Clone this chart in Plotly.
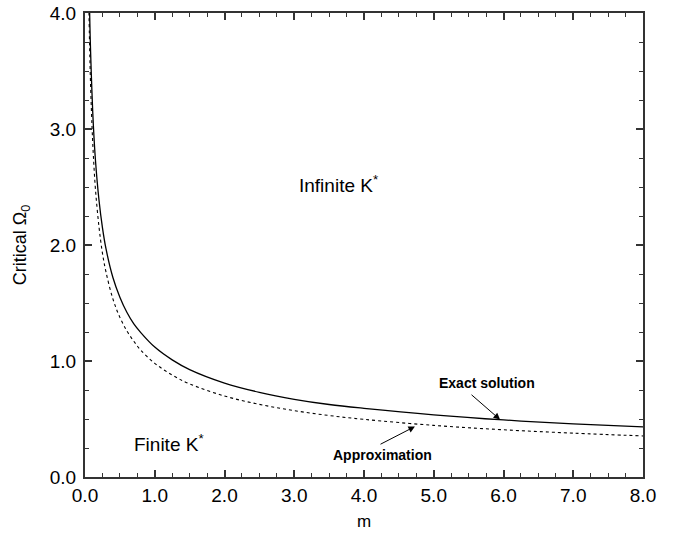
import plotly.graph_objects as go

# Exact solution (solid)
m_exact = [0.06, 0.07, 0.08, 0.1, 0.12, 0.15, 0.2, 0.25, 0.3, 0.4, 0.5, 0.6, 0.7, 0.8, 1.0, 1.25, 1.5,
           2.0, 2.5, 3.0, 3.5, 4.0, 5.0, 6.0, 7.0, 8.0]
omega_exact = [4.2, 3.9, 3.67, 3.31, 3.03, 2.73, 2.39, 2.15, 1.97, 1.72, 1.55, 1.42, 1.32, 1.245, 1.12, 1.01, 0.926,
               0.81, 0.73, 0.67, 0.625, 0.592, 0.536, 0.492, 0.458, 0.432]

# Approximation (dotted)
m_approx = [0.055, 0.07, 0.08, 0.1, 0.12, 0.15, 0.2, 0.25, 0.3, 0.4, 0.5, 0.6, 0.7, 0.8, 1.0, 1.25, 1.5,
            2.0, 2.5, 3.0, 3.5, 4.0, 5.0, 6.0, 7.0, 8.0]
omega_approx = [4.06, 3.61, 3.38, 3.03, 2.77, 2.48, 2.16, 1.93, 1.77, 1.535, 1.376, 1.26, 1.17, 1.093, 0.98, 0.879, 0.803,
                0.698, 0.626, 0.572, 0.53, 0.497, 0.445, 0.407, 0.378, 0.354]

FONT = "Liberation Sans, Arial, Helvetica, sans-serif"

fig = go.Figure()
fig.add_trace(go.Scatter(x=m_exact, y=omega_exact, mode="lines", line_shape="spline",
                         line=dict(color="black", width=1.3), name="Exact solution"))
fig.add_trace(go.Scatter(x=m_approx, y=omega_approx, mode="lines", line_shape="spline",
                         line=dict(color="black", width=1.1, dash="dot"), name="Approximation"))

axis_common = dict(
    showgrid=False, zeroline=False, showline=True, linecolor="#333", linewidth=2,
    mirror="ticks", ticks="inside", ticklen=7, tickwidth=1.5, tickcolor="#333",
    tickmode="linear", tick0=0, dtick=1, tickformat=".1f", automargin=False,
    tickfont=dict(family=FONT, size=19, color="black"),
    minor=dict(ticks="inside", ticklen=4, tickwidth=1, tickcolor="#333",
               tickmode="linear", tick0=0, dtick=0.25, showgrid=False),
)

fig.update_xaxes(range=[0, 8],
                 title=dict(text="m", font=dict(family=FONT, size=17, color="black"), standoff=10),
                 **axis_common)
fig.update_yaxes(range=[0, 4], ticklabelstandoff=3,
                 title=dict(text="Critical Ω<sub>0</sub>", font=dict(family=FONT, size=18, color="black"), standoff=18),
                 **axis_common)

annos = [
    dict(x=3.63, y=2.53, text="Infinite K<sup>*</sup>", showarrow=False,
         font=dict(family=FONT, size=19, color="black")),
    dict(x=1.21, y=0.29, text="Finite K<sup>*</sup>", showarrow=False,
         font=dict(family=FONT, size=19, color="black")),
    dict(x=5.76, y=0.81, text="<b>Exact solution</b>", showarrow=False,
         font=dict(family=FONT, size=14, color="black")),
    dict(x=4.27, y=0.19, text="<b>Approximation</b>", showarrow=False,
         font=dict(family=FONT, size=14, color="black")),
    dict(x=5.95, y=0.495, ax=5.52, ay=0.72, axref="x", ayref="y", text="",
         showarrow=True, arrowhead=2, arrowsize=1.3, arrowwidth=1, arrowcolor="black"),
    dict(x=4.73, y=0.435, ax=4.215, ay=0.276, axref="x", ayref="y", text="",
         showarrow=True, arrowhead=2, arrowsize=1.3, arrowwidth=1, arrowcolor="black"),
]
fig.update_layout(
    annotations=annos,
    width=681, height=533,
    margin=dict(l=85, r=38, t=13, b=56, autoexpand=False),
    plot_bgcolor="white", paper_bgcolor="white",
    showlegend=False,
    font=dict(family=FONT, color="black"),
)

fig.write_html("out.html")
